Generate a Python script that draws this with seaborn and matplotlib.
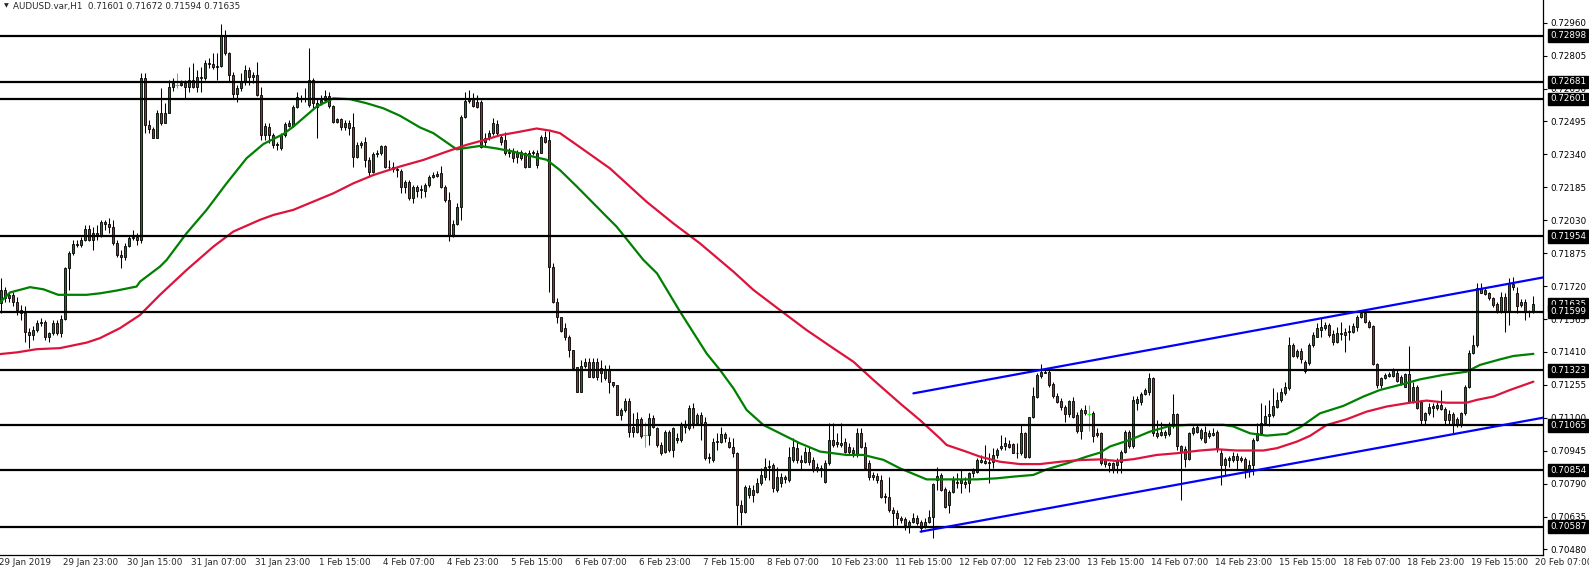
import numpy as np
import pandas as pd
import seaborn as sns
import matplotlib.pyplot as plt

# AUDUSD H1 bars, in units of 0.00001 above 0.70000
opens = [
    1620, 1639, 1702, 1663, 1679, 1643, 1608, 1592, 1506, 1490,
    1514, 1548, 1553, 1479, 1498, 1548, 1498, 1564, 1804, 1875,
    1919, 1914, 1937, 1988, 1937, 1969, 1961, 2024, 2013, 2000,
    1922, 1867, 1859, 1911, 1945, 1950, 1937, 2698, 2479, 2458,
    2416, 2534, 2487, 2534, 2659, 2667, 2667, 2675, 2659, 2691,
    2659, 2706, 2700, 2769, 2765, 2752, 2757, 2902, 2819, 2714,
    2625, 2651, 2683, 2738, 2706, 2714, 2620, 2432, 2471, 2432,
    2385, 2369, 2432, 2474, 2474, 2562, 2604, 2600, 2573, 2691,
    2565, 2581, 2596, 2615, 2568, 2494, 2505, 2468, 2487, 2471,
    2330, 2385, 2400, 2314, 2259, 2342, 2345, 2380, 2280, 2283,
    2270, 2264, 2188, 2211, 2134, 2188, 2173, 2170, 2196, 2236,
    2240, 2254, 2188, 2126, 1961, 2013, 2094, 2518, 2592, 2601,
    2589, 2589, 2400, 2416, 2440, 2483, 2423, 2408, 2345, 2353,
    2348, 2322, 2345, 2282, 2348, 2290, 2348, 2420, 2408, 1812,
    1647, 1576, 1521, 1482, 1419, 1338, 1223, 1344, 1363, 1294,
    1363, 1333, 1286, 1328, 1270, 1254, 1113, 1137, 1181, 1058,
    1035, 1093, 1019, 1019, 1098, 1050, 972, 941, 1035, 949,
    996, 996, 1058, 1050, 1145, 1074, 1113, 1082, 909, 901,
    988, 988, 1023, 988, 964, 933, 690, 658, 737, 760,
    752, 792, 823, 870, 878, 760, 792, 810, 807, 901,
    956, 901, 894, 941, 901, 854, 862, 799, 886, 996,
    976, 972, 988, 964, 933, 925, 1027, 964, 886, 823,
    827, 807, 732, 729, 666, 650, 627, 622, 591, 611,
    627, 611, 587, 611, 631, 807, 831, 763, 689, 752,
    799, 795, 799, 791, 838, 846, 890, 889, 893, 893,
    925, 956, 967, 976, 976, 936, 933, 1027, 914, 1102,
    1199, 1296, 1312, 1317, 1259, 1202, 1179, 1152, 1118, 1179,
    1113, 1039, 1137, 1118, 1124, 1027, 1027, 902, 886, 886,
    878, 894, 938, 1035, 965, 1168, 1172, 1212, 1223, 1286,
    1027, 1019, 1019, 1024, 1059, 1118, 968, 952, 905, 1027,
    1035, 1004, 1035, 1015, 1030, 1035, 933, 878, 899, 899,
    921, 910, 905, 855, 878, 996, 1030, 1074, 1109, 1114,
    1153, 1184, 1216, 1239, 1443, 1391, 1415, 1365, 1357, 1443,
    1482, 1513, 1521, 1537, 1495, 1459, 1495, 1506, 1506, 1506,
    1529, 1573, 1595, 1553, 1532, 1353, 1255, 1286, 1297, 1297,
    1313, 1259, 1247, 1306, 1176, 1244, 1176, 1090, 1121, 1145,
    1145, 1140, 1140, 1090, 1118, 1093, 1066, 1121, 1244, 1407,
    1443, 1710, 1683, 1686, 1663, 1636, 1600, 1670, 1600, 1730,
    1686, 1647, 1647, 1600, 1601,
]
highs = [
    1680, 1757, 1718, 1694, 1694, 1671, 1631, 1624, 1522, 1530,
    1561, 1568, 1561, 1506, 1561, 1561, 1584, 1812, 1883, 1938,
    1938, 1953, 2008, 2008, 2000, 2008, 2032, 2032, 2040, 2032,
    1937, 1890, 1922, 1961, 1984, 1969, 2725, 2722, 2502, 2471,
    2549, 2651, 2581, 2691, 2698, 2722, 2690, 2690, 2753, 2769,
    2738, 2753, 2785, 2793, 2816, 2816, 2954, 2926, 2824, 2730,
    2667, 2722, 2761, 2753, 2730, 2777, 2659, 2487, 2487, 2440,
    2400, 2440, 2494, 2502, 2573, 2636, 2620, 2651, 2840, 2698,
    2604, 2620, 2643, 2636, 2573, 2510, 2510, 2502, 2502, 2537,
    2400, 2405, 2424, 2330, 2353, 2361, 2385, 2385, 2314, 2306,
    2283, 2270, 2220, 2220, 2196, 2196, 2196, 2204, 2243, 2259,
    2264, 2286, 2196, 2165, 2032, 2110, 2526, 2636, 2643, 2628,
    2620, 2596, 2440, 2455, 2510, 2502, 2430, 2447, 2369, 2369,
    2361, 2361, 2353, 2361, 2361, 2361, 2431, 2451, 2451, 1827,
    1663, 1576, 1545, 1490, 1419, 1341, 1372, 1380, 1380, 1380,
    1380, 1372, 1348, 1348, 1270, 1254, 1145, 1192, 1192, 1121,
    1129, 1105, 1082, 1121, 1113, 1058, 988, 1043, 1043, 1058,
    1027, 1082, 1090, 1160, 1168, 1121, 1129, 1105, 933, 1003,
    1027, 1058, 1035, 1011, 1003, 941, 713, 784, 784, 784,
    815, 862, 909, 901, 886, 870, 839, 831, 964, 1003,
    988, 925, 964, 964, 917, 886, 878, 901, 1074, 1074,
    1027, 1074, 1003, 980, 964, 1050, 1050, 988, 901, 846,
    839, 831, 745, 823, 682, 666, 638, 634, 619, 650,
    642, 619, 627, 666, 795, 867, 838, 776, 760, 826,
    838, 854, 823, 846, 862, 909, 925, 972, 933, 956,
    956, 1019, 1011, 995, 980, 980, 1066, 1035, 1105, 1246,
    1309, 1353, 1333, 1325, 1270, 1215, 1191, 1160, 1184, 1199,
    1129, 1145, 1160, 1160, 1133, 1050, 1035, 910, 894, 894,
    910, 949, 1043, 1043, 1203, 1203, 1223, 1239, 1310, 1294,
    1090, 1082, 1043, 1082, 1212, 1121, 972, 965, 1035, 1059,
    1067, 1051, 1059, 1043, 1051, 1043, 952, 917, 921, 941,
    933, 921, 917, 902, 1004, 1074, 1169, 1161, 1184, 1239,
    1223, 1239, 1270, 1482, 1451, 1423, 1427, 1373, 1451, 1506,
    1545, 1568, 1553, 1545, 1514, 1529, 1553, 1521, 1537, 1545,
    1584, 1608, 1608, 1561, 1537, 1360, 1294, 1310, 1317, 1333,
    1325, 1302, 1310, 1438, 1270, 1255, 1184, 1129, 1168, 1168,
    1176, 1231, 1153, 1137, 1129, 1106, 1129, 1255, 1419, 1490,
    1733, 1733, 1710, 1694, 1670, 1647, 1694, 1686, 1757, 1764,
    1714, 1658, 1658, 1608, 1672,
]
lows = [
    1600, 1592, 1647, 1647, 1624, 1584, 1561, 1459, 1428, 1467,
    1506, 1530, 1467, 1459, 1490, 1490, 1482, 1561, 1702, 1867,
    1906, 1906, 1930, 1930, 1890, 1937, 1953, 1985, 1969, 1914,
    1859, 1804, 1843, 1906, 1937, 1914, 1922, 2440, 2440, 2416,
    2416, 2479, 2487, 2534, 2640, 2651, 2660, 2604, 2636, 2651,
    2636, 2636, 2690, 2745, 2740, 2690, 2750, 2810, 2683, 2604,
    2589, 2640, 2667, 2667, 2675, 2615, 2408, 2408, 2393, 2369,
    2361, 2361, 2424, 2471, 2471, 2557, 2589, 2589, 2565, 2557,
    2416, 2573, 2589, 2557, 2487, 2487, 2455, 2455, 2432, 2283,
    2322, 2369, 2283, 2236, 2251, 2330, 2338, 2275, 2270, 2259,
    2236, 2157, 2157, 2126, 2110, 2141, 2134, 2141, 2188, 2228,
    2232, 2181, 2118, 1930, 1953, 2008, 2032, 2510, 2581, 2562,
    2557, 2369, 2377, 2408, 2432, 2432, 2385, 2337, 2330, 2306,
    2298, 2314, 2274, 2282, 2337, 2274, 2345, 2392, 1694, 1639,
    1545, 1502, 1466, 1388, 1325, 1223, 1220, 1333, 1290, 1286,
    1278, 1270, 1278, 1215, 1247, 1113, 1090, 1129, 1011, 1011,
    1027, 1003, 964, 972, 1050, 964, 925, 933, 941, 917,
    980, 988, 1027, 1043, 1050, 1066, 996, 901, 886, 894,
    948, 980, 988, 956, 917, 595, 595, 650, 721, 705,
    745, 784, 807, 807, 752, 752, 776, 792, 799, 894,
    886, 854, 886, 878, 846, 846, 823, 791, 878, 964,
    964, 964, 933, 925, 917, 917, 956, 854, 807, 807,
    792, 721, 697, 658, 587, 595, 606, 572, 559, 603,
    595, 564, 580, 606, 532, 760, 757, 674, 650, 744,
    768, 744, 768, 752, 823, 838, 886, 882, 795, 862,
    909, 948, 948, 956, 933, 909, 925, 909, 909, 1097,
    1191, 1285, 1309, 1246, 1191, 1168, 1136, 1082, 1105, 1097,
    1027, 999, 1113, 1039, 988, 1011, 878, 870, 847, 839,
    839, 839, 933, 957, 957, 1137, 1161, 1208, 1208, 1012,
    1004, 1012, 1004, 1012, 1051, 949, 713, 870, 902, 1019,
    1027, 996, 983, 1004, 1012, 941, 784, 831, 870, 894,
    855, 894, 816, 823, 831, 993, 1027, 1067, 1059, 1106,
    1145, 1176, 1208, 1231, 1388, 1380, 1360, 1310, 1349, 1435,
    1479, 1482, 1513, 1482, 1443, 1451, 1466, 1411, 1466, 1498,
    1510, 1568, 1545, 1521, 1349, 1239, 1239, 1281, 1294, 1294,
    1270, 1255, 1244, 1168, 1171, 1140, 1066, 1066, 1113, 1106,
    1137, 1137, 1066, 1066, 1027, 1058, 1058, 1113, 1239, 1400,
    1432, 1686, 1678, 1655, 1623, 1595, 1595, 1506, 1537, 1702,
    1592, 1623, 1561, 1576, 1594,
]
closes = [
    1639, 1702, 1663, 1679, 1643, 1608, 1592, 1506, 1490, 1514,
    1548, 1553, 1479, 1498, 1548, 1498, 1564, 1804, 1875, 1919,
    1914, 1937, 1988, 1937, 1969, 1961, 2024, 2013, 2000, 1922,
    1867, 1859, 1911, 1945, 1950, 1937, 2698, 2479, 2458, 2416,
    2534, 2487, 2534, 2659, 2675, 2667, 2675, 2659, 2691, 2659,
    2706, 2700, 2769, 2765, 2752, 2757, 2902, 2819, 2714, 2625,
    2651, 2683, 2738, 2706, 2714, 2620, 2432, 2474, 2432, 2385,
    2389, 2432, 2483, 2487, 2562, 2609, 2600, 2604, 2691, 2581,
    2581, 2596, 2615, 2568, 2494, 2505, 2468, 2487, 2463, 2330,
    2385, 2396, 2314, 2259, 2342, 2345, 2380, 2280, 2283, 2270,
    2267, 2188, 2211, 2134, 2188, 2170, 2179, 2196, 2236, 2243,
    2248, 2188, 2126, 1961, 2013, 2094, 2518, 2592, 2601, 2568,
    2565, 2377, 2416, 2443, 2487, 2440, 2400, 2345, 2353, 2322,
    2329, 2353, 2282, 2348, 2353, 2348, 2420, 2400, 1812, 1647,
    1576, 1510, 1482, 1419, 1333, 1223, 1344, 1363, 1294, 1363,
    1294, 1310, 1325, 1270, 1254, 1113, 1137, 1181, 1035, 1035,
    1093, 1014, 1019, 1098, 1058, 972, 933, 1035, 949, 1050,
    1003, 1066, 1066, 1145, 1074, 1113, 1074, 909, 917, 988,
    992, 1023, 1003, 964, 933, 690, 658, 776, 768, 737,
    792, 831, 870, 873, 768, 823, 823, 820, 917, 964,
    901, 894, 941, 894, 854, 870, 854, 886, 996, 972,
    988, 980, 941, 941, 949, 1027, 964, 862, 823, 831,
    807, 729, 726, 666, 650, 627, 619, 595, 611, 627,
    606, 580, 611, 631, 788, 826, 760, 682, 752, 807,
    791, 807, 788, 838, 854, 901, 901, 898, 886, 925,
    948, 967, 980, 964, 936, 933, 1027, 914, 1102, 1202,
    1301, 1317, 1317, 1254, 1202, 1176, 1152, 1118, 1179, 1105,
    1039, 1137, 1121, 1118, 1014, 1019, 886, 883, 878, 855,
    902, 938, 1035, 965, 1184, 1187, 1212, 1231, 1286, 1027,
    1012, 1035, 1035, 1071, 1118, 965, 941, 905, 1027, 1051,
    1056, 1043, 988, 1030, 1019, 957, 878, 905, 910, 921,
    899, 902, 852, 878, 996, 1030, 1074, 1109, 1118, 1156,
    1184, 1223, 1247, 1443, 1391, 1415, 1376, 1318, 1443, 1490,
    1521, 1529, 1537, 1490, 1459, 1501, 1501, 1490, 1510, 1534,
    1573, 1595, 1553, 1529, 1353, 1255, 1286, 1302, 1306, 1325,
    1275, 1294, 1306, 1176, 1247, 1145, 1090, 1121, 1153, 1157,
    1160, 1160, 1090, 1118, 1066, 1066, 1121, 1247, 1407, 1443,
    1710, 1689, 1702, 1663, 1631, 1600, 1670, 1600, 1733, 1714,
    1626, 1631, 1600, 1598, 1635,
]

# one date label every 16 bars
date_labels = ['29 Jan 2019', '29 Jan 23:00', '30 Jan 15:00', '31 Jan 07:00', '31 Jan 23:00',
               '1 Feb 15:00', '4 Feb 07:00', '4 Feb 23:00', '5 Feb 15:00', '6 Feb 07:00',
               '6 Feb 23:00', '7 Feb 15:00', '8 Feb 07:00', '10 Feb 23:00', '11 Feb 15:00',
               '12 Feb 07:00', '12 Feb 23:00', '13 Feb 15:00', '14 Feb 07:00', '14 Feb 23:00',
               '15 Feb 15:00', '18 Feb 07:00', '18 Feb 23:00', '19 Feb 15:00', '20 Feb 07:00']

# moving averages sampled along the chart (bar position, value)
fast_ma_bar = [0.75, 3.25, 8.25, 11.6, 15.3, 22.4, 25.75, 29.9, 34.9, 35.75,
               40.75, 42.4, 47.4, 52.4, 57.4, 62.4, 66.6, 71.6, 74.1, 79.9,
               84.1, 88.25, 92.4, 96.6, 100.75, 105.75, 109.1, 114.9, 120.75, 124.9,
               129.1, 134.1, 137.4, 140.75, 145, 152.4, 154.9, 161.6, 165, 170.75,
               177.4, 180.75, 184.1, 187.4, 191.6, 195.75, 200.75, 205.75, 209.1, 212.4,
               216.6, 221.6, 225.75, 232.4, 237.4, 244.9, 249.9, 254.1, 259.1, 262.4,
               267.4, 272.4, 275.75, 278.25, 283.25, 288.25, 293.25, 298.25, 306.6, 309.1,
               313.25, 317.4, 322.4, 325.75, 330.75, 336.6, 341.6, 345.75, 350.75, 355.75,
               361.6, 367.4, 370.75, 375.75, 379.1, 384.1]
fast_ma_val = [1643, 1690, 1715, 1705, 1679, 1679, 1686, 1699, 1718, 1741,
               1812, 1843, 1969, 2079, 2204, 2322, 2389, 2436, 2471, 2565,
               2604, 2600, 2581, 2557, 2522, 2467, 2440, 2364, 2380, 2368,
               2353, 2329, 2315, 2266, 2188, 2047, 2000, 1843, 1780, 1600,
               1403, 1325, 1239, 1137, 1066, 1027, 980, 941, 933, 925,
               925, 902, 862, 810, 810, 810, 815, 823, 831, 857,
               885, 917, 936, 965, 996, 1035, 1062, 1067, 1067, 1059,
               1027, 1016, 1024, 1055, 1121, 1156, 1200, 1231, 1255, 1281,
               1302, 1317, 1349, 1375, 1391, 1401]
slow_ma_bar = [0.75, 5.0, 9.9, 15.75, 22.4, 25.75, 30.75, 35.75, 40.75, 47.4, 54.1, 59.1,
               65.75, 69.1, 74.1, 79.1, 84.1, 89.1, 94.1, 100.75, 106.6, 112.4,
               117.4, 122.4, 125.75, 130.75, 134.9, 138.25, 140.75, 145, 153.25, 162.4,
               169.1, 175.75, 184.1, 189.1, 195.75, 202.4, 209.1, 214.1, 219.1, 225.75,
               230.75, 235.75, 237.4, 242.4, 245.75, 250.75, 255.75, 260.75, 265.75, 270.75,
               275.75, 279.9, 284.1, 289.9, 294.9, 300.75, 304.9, 309.9, 316.6, 320,
               325, 328.25, 332.4, 337.4, 342.4, 347.4, 353.25, 357.4, 362.4, 367.4,
               369.9, 374.1, 378.25, 384.1]
slow_ma_val = [1400, 1408, 1423, 1428, 1454, 1475, 1522, 1584, 1679, 1796, 1906, 1977,
               2032, 2055, 2079, 2118, 2157, 2204, 2243, 2283, 2314, 2353,
               2385, 2411, 2430, 2447, 2462, 2452, 2440, 2384, 2274, 2117,
               2015, 1921, 1788, 1702, 1607, 1513, 1427, 1364, 1278, 1168,
               1089, 1003, 972, 940, 917, 893, 882, 882, 893, 901,
               904, 897, 905, 925, 933, 946, 952, 946, 946, 957,
               988, 1015, 1066, 1093, 1129, 1153, 1171, 1181, 1171, 1171,
               1184, 1200, 1231, 1270]

# horizontal levels and channel lines
levels = [2898, 2681, 2601, 1954, 1599, 1323, 1065, 854, 587]
upper_bar = [229.1, 386.6]
upper_val = [1215, 1761]
lower_bar = [230.9, 387.0]
lower_val = [564, 1102]
last_price = 1635
price_ticks = [2960, 2805, 2650, 2495, 2340, 2185, 2030, 1875, 1720, 1565,
               1410, 1255, 1100, 945, 790, 635, 480]


def px(v):
    return 0.7 + np.asarray(v, dtype=float) / 1e5


df = pd.DataFrame({'o': px(opens), 'h': px(highs), 'l': px(lows), 'c': px(closes)})
df['bar'] = np.arange(len(df))
df['h'] = df[['h', 'o', 'c']].max(axis=1)
df['l'] = df[['l', 'o', 'c']].min(axis=1)

sns.set_style('white')
plt.rcParams['font.family'] = ['DejaVu Sans']
FS = 6.3

fig = plt.figure(figsize=(15.89, 5.69), dpi=100)
ax = fig.add_axes([0, 14 / 569, 1543 / 1589, 555 / 569])

up = df[df.c > df.o]
dn = df[df.c < df.o]
flat = df[df.c == df.o]
body = df[df.c != df.o]

# wicks then bodies
ax.vlines(body.bar, body.l, body.h, color='black', lw=0.75, zorder=2)
ax.bar(up.bar, up.c - up.o, bottom=up.o, width=0.72, color='#0B7D0B',
       edgecolor='black', linewidth=0.6, zorder=3)
ax.bar(dn.bar, dn.o - dn.c, bottom=dn.c, width=0.72, color='#A82A2A',
       edgecolor='black', linewidth=0.6, zorder=3)
ax.vlines(flat.bar, flat.l, flat.h, color='#00FF00', lw=0.75, zorder=3)
ax.hlines(flat.c, flat.bar - 0.4, flat.bar + 0.4, color='#00FF00', lw=0.75, zorder=3)

# moving averages
sns.lineplot(x=fast_ma_bar, y=px(fast_ma_val), ax=ax, color='#008000', lw=1.6, sort=False, zorder=4)
sns.lineplot(x=slow_ma_bar, y=px(slow_ma_val), ax=ax, color='#DC143C', lw=1.6, sort=False, zorder=4)

# horizontal levels and channel
for lv in levels:
    ax.axhline(px(lv), color='black', lw=1.6, zorder=5)
ax.plot(upper_bar, px(upper_val), color='#0000FF', lw=1.6, zorder=5)
ax.plot(lower_bar, px(lower_val), color='#0000FF', lw=1.6, zorder=5)

ax.set_xlim(0.75, 386.5)
ax.set_ylim(px(454), px(3067))

for s in ['left', 'top']:
    ax.spines[s].set_visible(False)
for s in ['right', 'bottom']:
    ax.spines[s].set_color('black')
    ax.spines[s].set_linewidth(0.9)

# right price scale
ax.yaxis.tick_right()
ax.set_yticks(px(price_ticks))
ax.set_yticklabels([f'{p:.5f}' for p in px(price_ticks)], fontsize=FS)
ax.tick_params(axis='y', direction='out', length=3, width=0.8, pad=2, colors='black')

# date scale
tick_bars = np.arange(len(date_labels)) * 16
ax.set_xticks(tick_bars[1:])
ax.set_xticklabels([])
ax.tick_params(axis='x', direction='out', length=3, width=0.8, colors='black')
xt = ax.get_xaxis_transform()
for b, lab in zip(tick_bars, date_labels):
    ax.text(b + 0.4, -0.0135, lab, transform=xt, fontsize=FS, ha='left', va='center',
            clip_on=False)

# black price tags
yt = ax.get_yaxis_transform()
tag = dict(boxstyle='square,pad=0.22', fc='black', ec='black')
ax.text(1.0045, px(last_price), f'{px(last_price):.5f}', transform=yt, fontsize=FS,
        color='white', ha='left', va='center', bbox=tag, clip_on=False, zorder=10)
for lv in levels:
    ax.text(1.0045, px(lv), f'{px(lv):.5f}', transform=yt, fontsize=FS, color='white',
            ha='left', va='center', bbox=tag, clip_on=False, zorder=11)

# header
fig.text(4 / 1589, 1 - 6 / 569, '\u25BC', fontsize=4.5, ha='left', va='center')
fig.text(13 / 1589, 1 - 6 / 569, 'AUDUSD.var,H1  0.71601 0.71672 0.71594 0.71635',
         fontsize=FS, ha='left', va='center')

fig.savefig('out.png', dpi=100)
